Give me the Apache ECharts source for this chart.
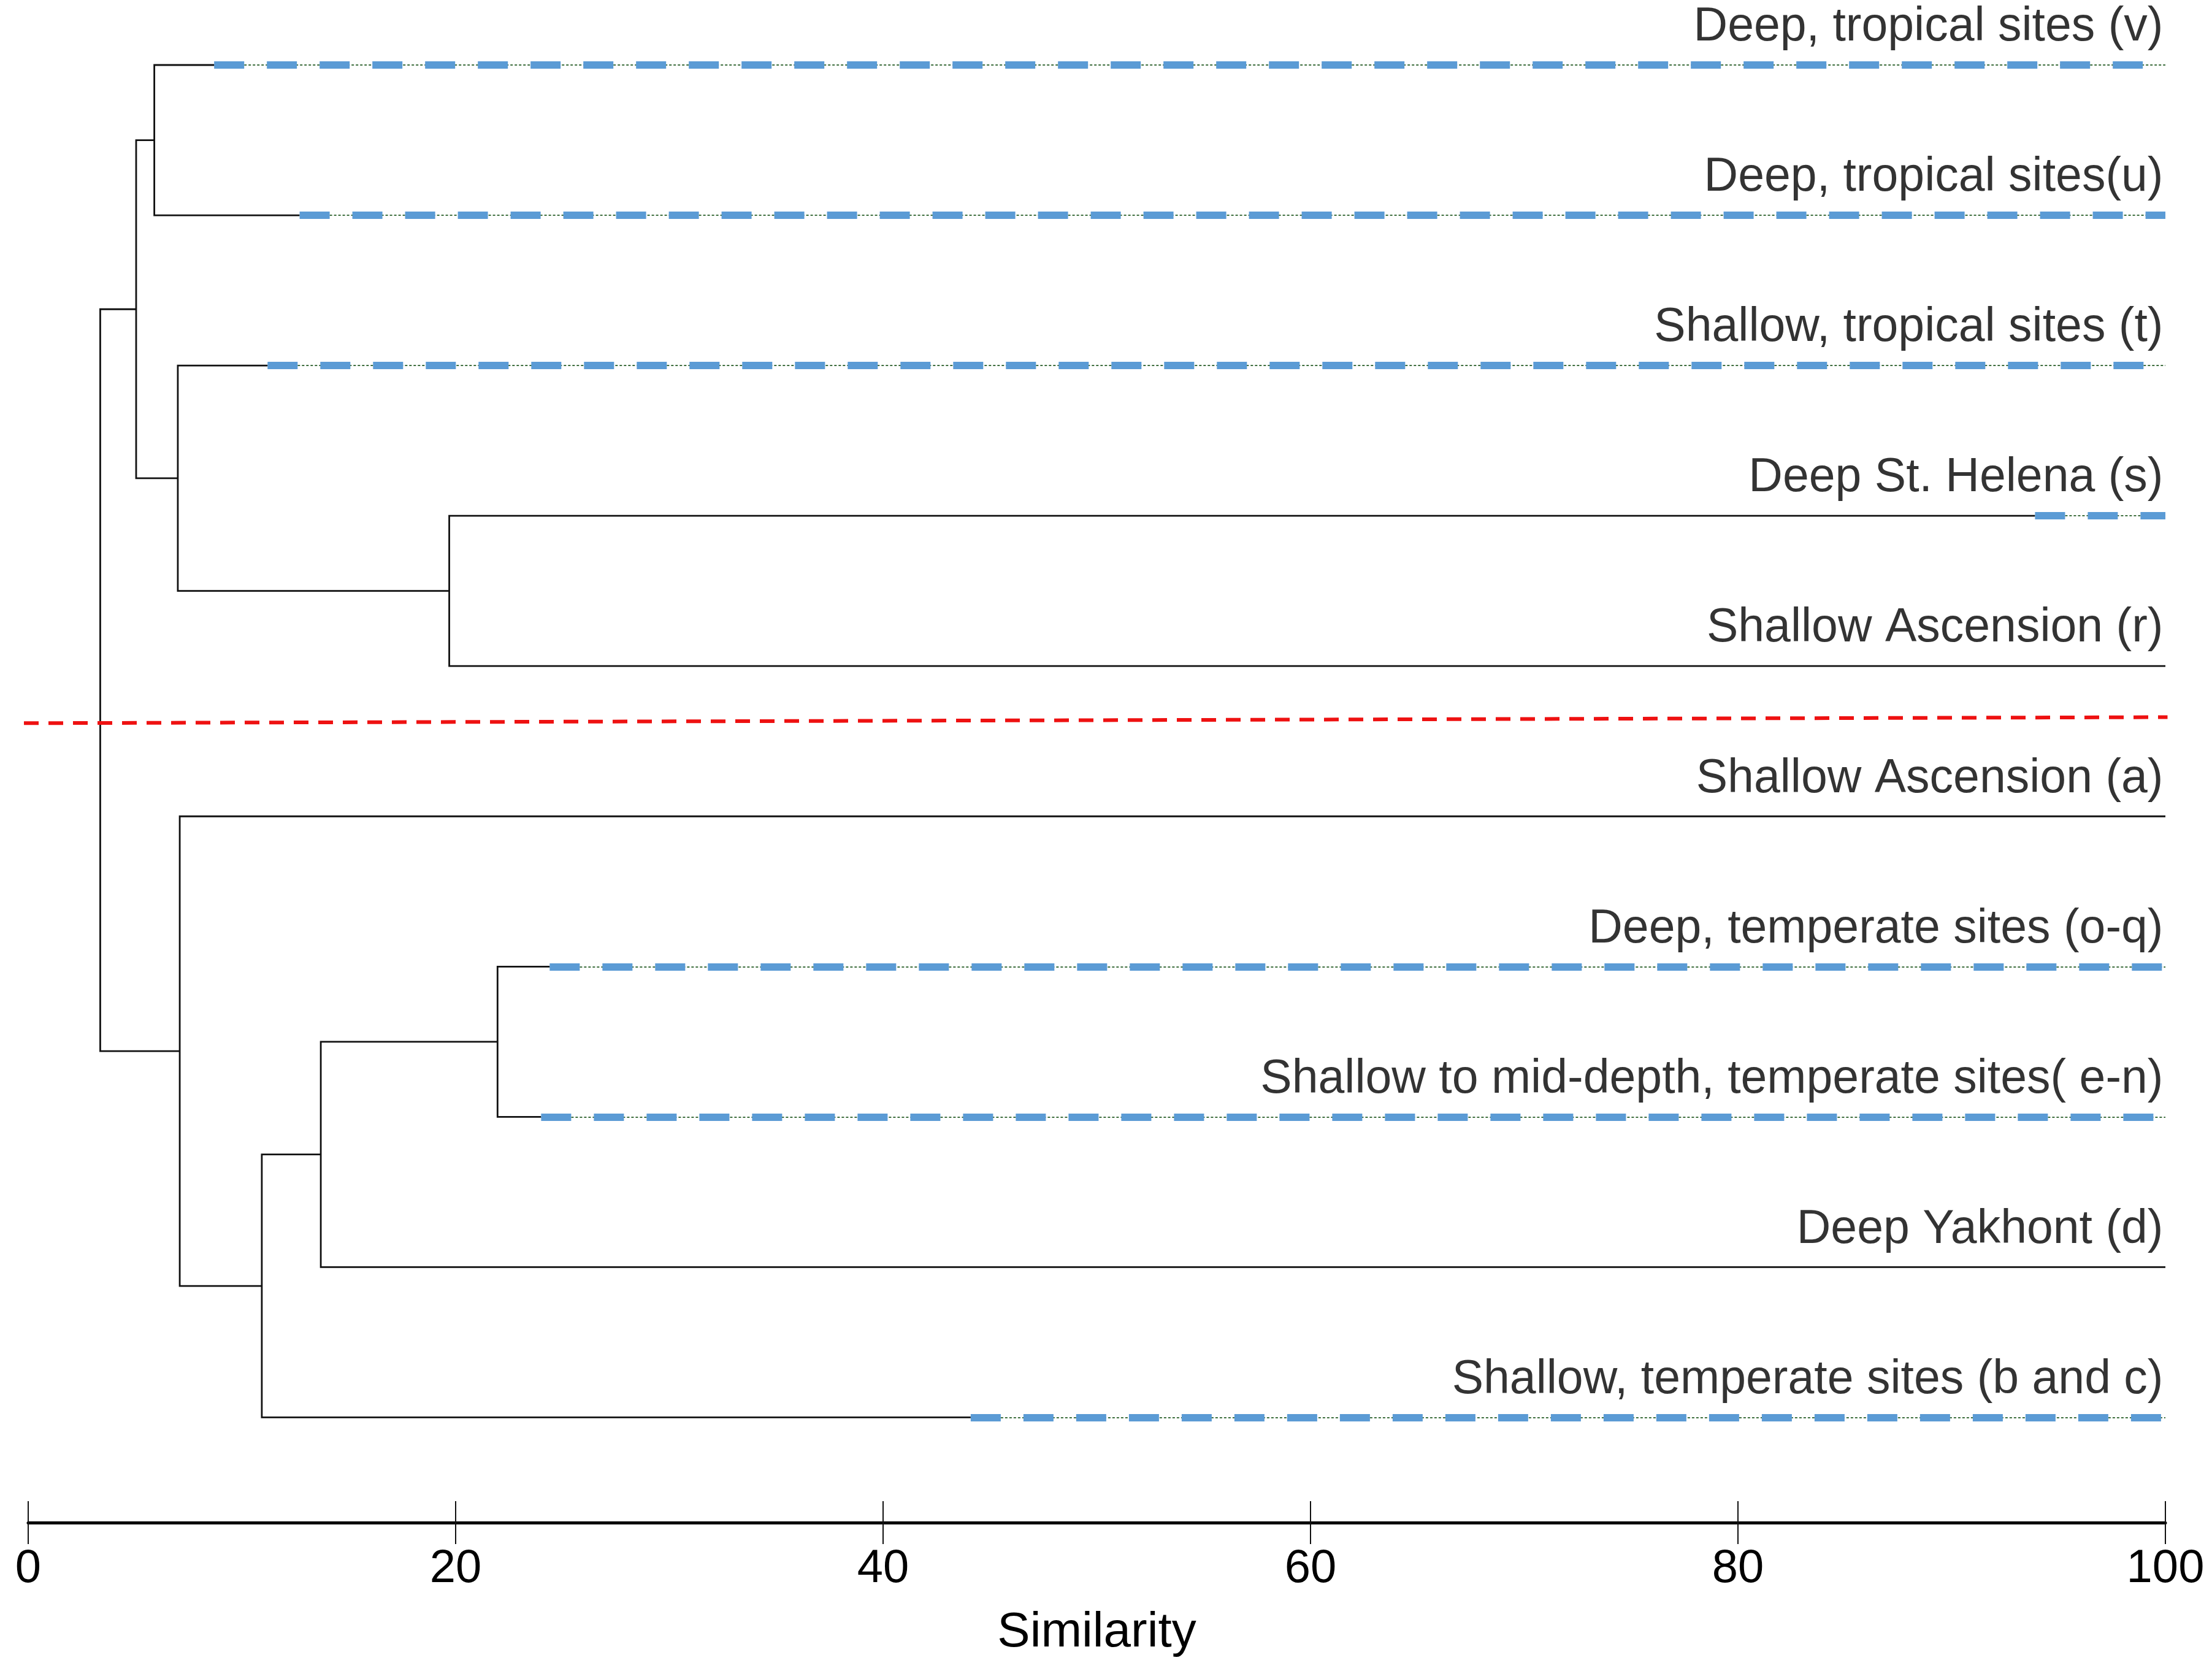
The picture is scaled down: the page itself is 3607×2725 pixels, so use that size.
<!DOCTYPE html>
<html>
<head>
<meta charset="utf-8">
<script src="https://cdn.jsdelivr.net/npm/echarts@6/dist/echarts.min.js"></script>
<style>
  html, body { margin: 0; padding: 0; background: #fff; }
  #chart { width: 3607px; height: 2725px; }
</style>
</head>
<body>
<div id="chart"></div>
<script>
// leaves, top to bottom
var leafNames = [
    'Deep, tropical sites (v)',
    'Deep, tropical sites(u)',
    'Shallow, tropical sites (t)',
    'Deep St. Helena (s)',
    'Shallow Ascension (r)',
    'Shallow Ascension (a)',
    'Deep, temperate sites (o-q)',
    'Shallow to mid-depth, temperate sites( e-n)',
    'Deep Yakhont (d)',
    'Shallow, temperate sites (b and c)'
];
// similarity where the blue dashed part of each leaf branch starts (null = none)
var dashStart = [8.7, 12.7, 11.2, 93.9, null, null, 24.4, 24.0, null, 44.1];
// merges: [child a, child b, similarity]; ids 0-9 are leaves, 10+ are merges in order
var merges = [
    [0, 1, 5.9],
    [3, 4, 19.7],
    [2, 11, 7.0],
    [10, 12, 5.05],
    [6, 7, 21.96],
    [14, 8, 13.69],
    [15, 9, 10.93],
    [5, 16, 7.09],
    [13, 17, 3.37]
];
var xTicks = [0, 20, 40, 60, 80, 100];
// red cut line (similarity, leaf row) at both ends
var cutLine = [[-0.2, 4.38], [100.1, 4.34]];

var FONT = '"Liberation Sans", Arial, sans-serif';

// node positions
var nodeX = [], nodeY = [];
leafNames.forEach(function (n, i) {
    nodeX.push(dashStart[i] == null ? 100 : dashStart[i]);
    nodeY.push(i);
});
var treeLines = [];
merges.forEach(function (m) {
    var a = m[0], b = m[1], h = m[2];
    treeLines.push({
        coords: [[nodeX[a], nodeY[a]], [h, nodeY[a]], [h, nodeY[b]], [nodeX[b], nodeY[b]]]
    });
    nodeX.push(h);
    nodeY.push((nodeY[a] + nodeY[b]) / 2);
});

var dashLines = [];
dashStart.forEach(function (s, i) {
    if (s != null) dashLines.push({ coords: [[s, i], [100, i]] });
});

var chart = echarts.init(document.getElementById('chart'));
chart.setOption({
    animation: false,
    backgroundColor: '#fff',
    grid: { left: 46, right: 76, top: 8, bottom: 242 },
    xAxis: [{
        type: 'value',
        position: 'bottom',
        min: xTicks[0], max: xTicks[xTicks.length - 1], interval: xTicks[1] - xTicks[0],
        name: 'Similarity',
        nameLocation: 'middle',
        nameGap: 140,
        nameTextStyle: { fontSize: 80, color: '#000', fontFamily: FONT },
        axisLine: { onZero: false, lineStyle: { color: '#000', width: 5 } },
        axisTick: { show: true, inside: false, length: 35, lineStyle: { color: '#111', width: 2 } },
        axisLabel: { fontSize: 76, color: '#000', fontFamily: FONT, margin: 38 },
        splitLine: { show: false }
    }, {
        type: 'value',
        position: 'bottom',
        min: xTicks[0], max: xTicks[xTicks.length - 1], interval: xTicks[1] - xTicks[0],
        axisLine: { show: false, onZero: false },
        axisTick: { show: true, inside: true, length: 35, lineStyle: { color: '#111', width: 2 } },
        axisLabel: { show: false },
        splitLine: { show: false }
    }],
    yAxis: {
        type: 'value', inverse: true, min: -0.4, max: 9.7, show: false
    },
    series: [{
        type: 'lines',
        coordinateSystem: 'cartesian2d',
        polyline: true,
        clip: false,
        lineStyle: { color: '#111', width: 2.8, opacity: 1 },
        data: treeLines
    }, {
        type: 'lines',
        coordinateSystem: 'cartesian2d',
        clip: false,
        lineStyle: { color: '#3f6f3f', width: 2, type: [4, 3], opacity: 1 },
        data: dashLines
    }, {
        type: 'lines',
        coordinateSystem: 'cartesian2d',
        clip: false,
        lineStyle: { color: '#5B9BD5', width: 12, type: [49, 37], opacity: 1 },
        data: dashLines
    }, {
        type: 'lines',
        coordinateSystem: 'cartesian2d',
        clip: false,
        lineStyle: { color: '#EE1111', width: 6, type: [24, 16], opacity: 1 },
        data: [{ coords: cutLine }]
    }, {
        type: 'scatter',
        symbolSize: 1,
        itemStyle: { color: 'rgba(0,0,0,0)' },
        label: {
            show: true,
            position: 'left',
            distance: 3,
            offset: [0, -61],
            formatter: function (p) { return p.name; },
            fontSize: 77,
            color: '#000',
            fontFamily: FONT
        },
        data: leafNames.map(function (n, i) { return { name: n, value: [100, i] }; })
    }]
});
</script>
</body>
</html>
